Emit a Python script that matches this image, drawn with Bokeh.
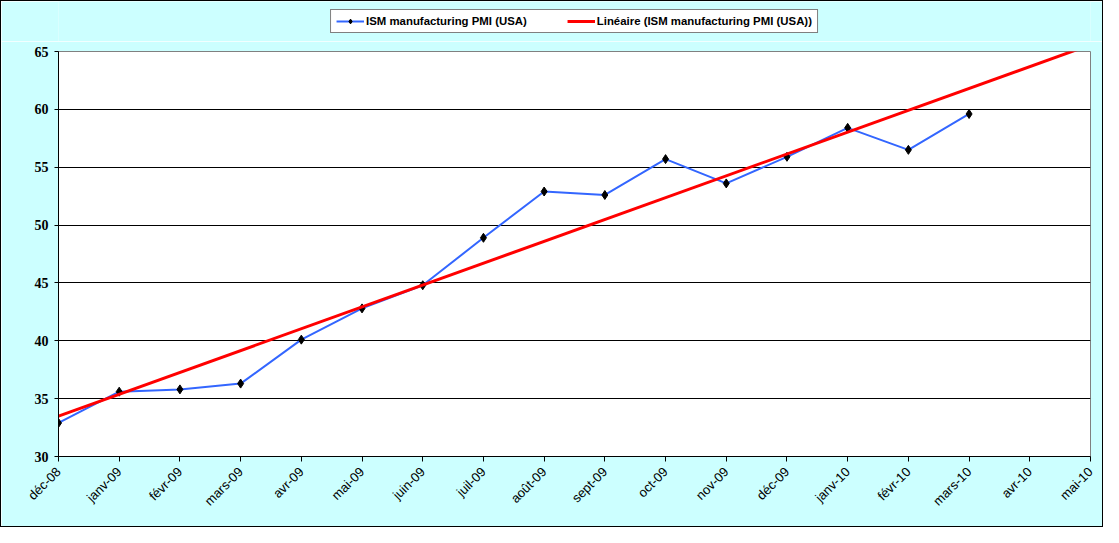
import math
from bokeh.plotting import figure
from bokeh.layouts import column
from bokeh.models import Range1d, FixedTicker, Legend, LegendItem, ColumnDataSource
from bokeh.embed import file_html
from bokeh.resources import INLINE

months = ["déc-08", "janv-09", "févr-09", "mars-09", "avr-09", "mai-09", "juin-09",
          "juil-09", "août-09", "sept-09", "oct-09", "nov-09", "déc-09", "janv-10",
          "févr-10", "mars-10", "avr-10", "mai-10"]
pmi_months = months[:16]
pmi_values = [32.9, 35.6, 35.8, 36.3, 40.1, 42.8, 44.8, 48.9, 52.9, 52.6, 55.7,
              53.6, 55.9, 58.4, 56.5, 59.6]
trend_months = ["déc-08", "mai-10"]
trend_values = [33.49, 65.58]
y_ticks = [30, 35, 40, 45, 50, 55, 60, 65]

series_name = "ISM manufacturing PMI (USA)"
trend_name = "Linéaire (ISM manufacturing PMI (USA))"

BG = "#CCFFFF"
BLUE = "#3366FF"
RED = "#FF0000"

src = ColumnDataSource(dict(x=[months.index(m) for m in pmi_months], y=pmi_values))
tsrc = ColumnDataSource(dict(x=[months.index(m) for m in trend_months], y=trend_values))

# ---------------- main chart ----------------
p = figure(width=1101, height=485, output_backend="svg", toolbar_location=None,
           x_range=Range1d(0, len(months) - 1), y_range=Range1d(30, 65),
           min_border_left=57, min_border_right=12, min_border_top=10, min_border_bottom=70)
p.background_fill_color = "white"
p.border_fill_color = BG
p.outline_line_color = "#808080"
p.outline_line_width = 1

p.yaxis.ticker = FixedTicker(ticks=y_ticks)
p.yaxis.axis_line_color = "black"
p.yaxis.major_tick_line_color = "black"
p.yaxis.major_tick_out = 4
p.yaxis.major_tick_in = 0
p.yaxis.minor_tick_line_color = None
p.yaxis.major_label_text_font = "Liberation Serif"
p.yaxis.major_label_text_font_style = "bold"
p.yaxis.major_label_text_font_size = "14px"
p.yaxis.major_label_text_color = "black"
p.yaxis.major_label_standoff = 6

p.xaxis.ticker = FixedTicker(ticks=list(range(len(months))))
p.xaxis.major_label_overrides = {i: m for i, m in enumerate(months)}
p.xaxis.major_label_orientation = math.pi / 4
p.xaxis.axis_line_color = "black"
p.xaxis.major_tick_line_color = "black"
p.xaxis.major_tick_out = 5
p.xaxis.major_tick_in = 0
p.xaxis.minor_tick_line_color = None
p.xaxis.major_label_text_font = "Liberation Sans"
p.xaxis.major_label_text_font_size = "13px"
p.xaxis.major_label_text_color = "black"
p.xaxis.major_label_standoff = 8

p.xgrid.grid_line_color = None
p.ygrid.ticker = FixedTicker(ticks=y_ticks)
p.ygrid.grid_line_color = "black"
p.ygrid.grid_line_width = 1

p.line("x", "y", source=src, line_color=BLUE, line_width=2)
p.scatter("x", "y", source=src, marker="diamond", size=9,
          fill_color="black", line_color="black")
p.line("x", "y", source=tsrc, line_color=RED, line_width=3)

# ---------------- legend strip ----------------
top = figure(width=1101, height=40, output_backend="svg", toolbar_location=None,
             x_range=Range1d(0, 1), y_range=Range1d(0, 1),
             x_axis_type=None, y_axis_type=None,
             min_border_left=0, min_border_right=0, min_border_top=0, min_border_bottom=0)
top.background_fill_color = BG
top.border_fill_color = BG
top.outline_line_color = None
top.xgrid.grid_line_color = None
top.ygrid.grid_line_color = None

# legend key renderers: styled like the chart's series, data kept outside the strip's view
key = ColumnDataSource(dict(x=[5, 6], y=[5, 6]))
k_line = top.line("x", "y", source=key, line_color=BLUE, line_width=2)
k_pts = top.scatter("x", "y", source=key, marker="diamond", size=9,
                    fill_color="black", line_color="black")
k_trend = top.line("x", "y", source=key, line_color=RED, line_width=3)

lg = Legend(items=[LegendItem(label=series_name, renderers=[k_line, k_pts]),
                   LegendItem(label=trend_name, renderers=[k_trend])],
            location="center", orientation="horizontal")
lg.label_text_font = "Liberation Sans"
lg.label_text_font_style = "bold"
lg.label_text_font_size = "11.4px"
lg.label_text_color = "black"
lg.glyph_width = 28
lg.glyph_height = 12
lg.label_standoff = 2
lg.spacing = 40
lg.padding = 5
lg.margin = 0
lg.label_height = 12
lg.border_line_color = "black"
lg.border_line_width = 1
lg.background_fill_color = "white"
lg.background_fill_alpha = 1
top.add_layout(lg, "center")

layout = column(top, p, spacing=0, styles={"border": "1px solid black"})

open("out.html", "w").write(file_html(layout, INLINE))
